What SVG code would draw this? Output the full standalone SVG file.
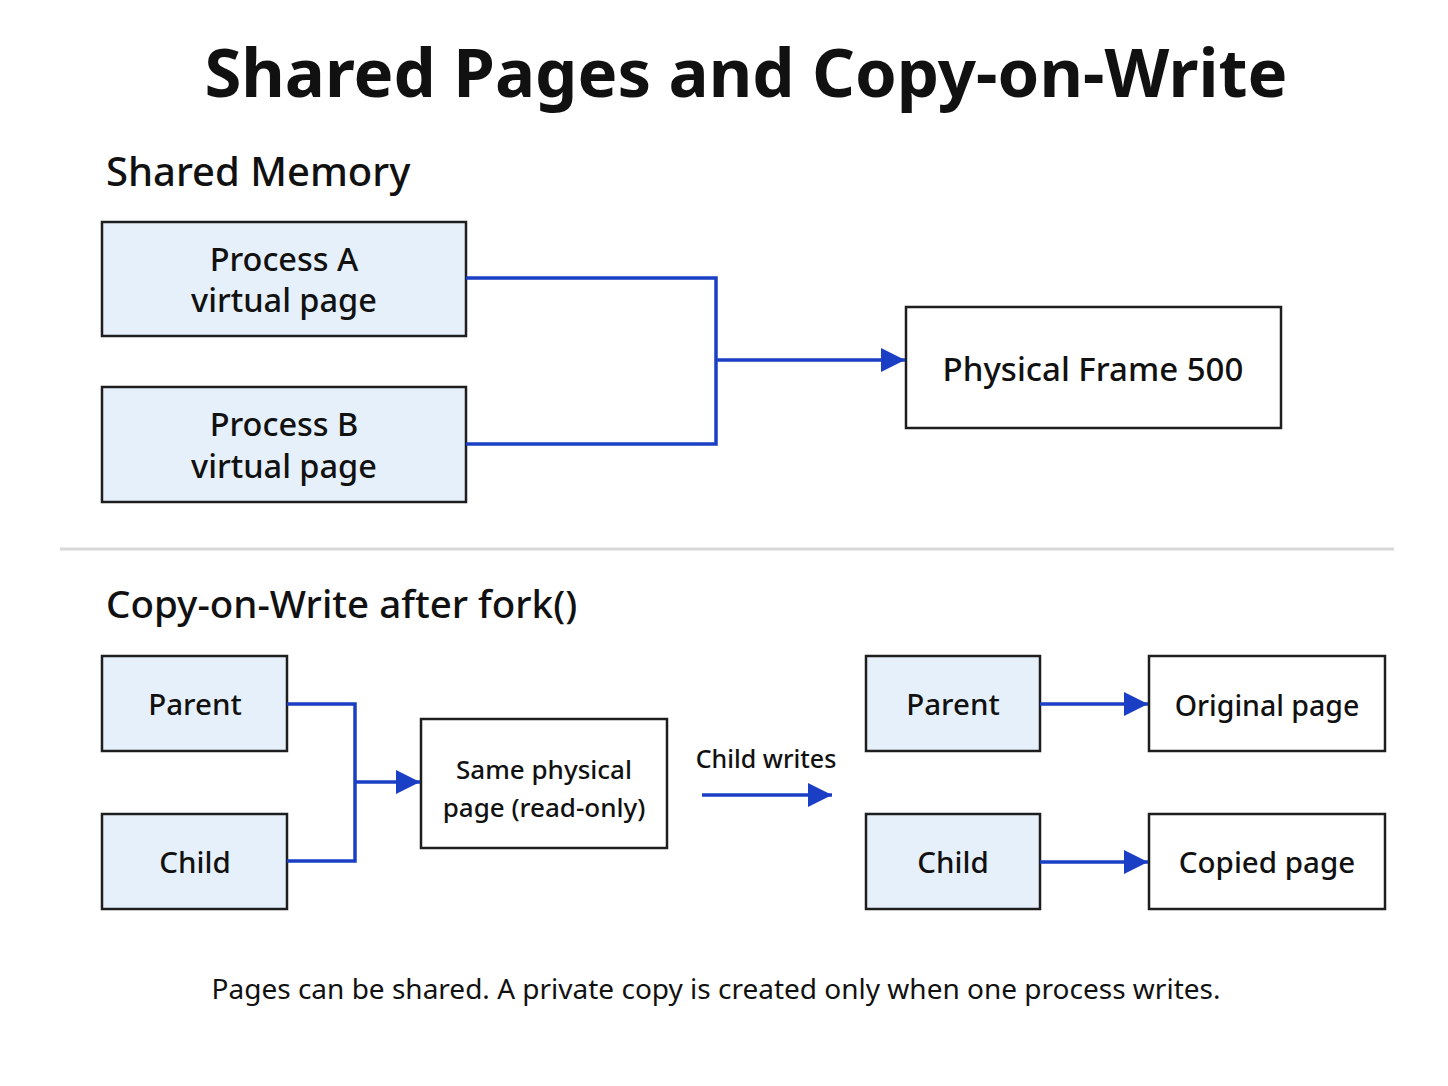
<svg xmlns="http://www.w3.org/2000/svg" width="1448" height="1086" viewBox="0 0 1448 1086">
<defs>
<marker id="arrow" viewBox="0 0 24 24" refX="24" refY="12" markerWidth="24" markerHeight="24" markerUnits="userSpaceOnUse" orient="auto">
<path d="M0,0 L24,12 L0,24 z" fill="#1a3fc4"/>
</marker>
<style>
text{font-family:"Noto Sans","Open Sans","Liberation Sans",sans-serif;fill:#111;font-weight:500;}
.title{font-size:67px;font-weight:700;}
.sec{font-size:40px;}
.lbl{font-size:32.5px;text-anchor:middle;}
.lb2{font-size:29.5px;text-anchor:middle;}
.sm{font-size:26px;text-anchor:middle;}
.foot{font-size:28px;text-anchor:middle;font-weight:400;}
.v{fill:#e6f0fb;stroke:#1e1e1e;stroke-width:2.5;}
.p{fill:#ffffff;stroke:#1e1e1e;stroke-width:2.5;}
.c{fill:none;stroke:#1a3fc4;stroke-width:3.5;stroke-linejoin:miter;}
.ca{fill:none;stroke:#1a3fc4;stroke-width:3.5;marker-end:url(#arrow);}
</style>
</defs>
<rect width="1448" height="1086" fill="#ffffff"/>
<text class="title" x="746" y="97" text-anchor="middle">Shared Pages and Copy-on-Write</text>
<text class="sec" x="106" y="186">Shared Memory</text>
<g id="procA"><rect class="v" x="102" y="222" width="364" height="114"/><text class="lbl" x="284" y="271">Process A</text><text class="lbl" x="284" y="312">virtual page</text></g>
<g id="procB"><rect class="v" x="102" y="387" width="364" height="115"/><text class="lbl" x="284" y="436">Process B</text><text class="lbl" x="284" y="478">virtual page</text></g>
<g id="frame500"><rect class="p" x="906" y="307" width="375" height="121"/><text class="lbl" x="1093" y="381" style="font-size:33px">Physical Frame 500</text></g>
<line x1="60" y1="549" x2="1394" y2="549" stroke="#d8d8d8" stroke-width="3"/>
<text class="sec" x="106" y="618" style="font-size:38.5px">Copy-on-Write after fork()</text>
<g id="parent1"><rect class="v" x="102" y="656" width="185" height="95"/><text class="lb2" x="195" y="715">Parent</text></g>
<g id="child1"><rect class="v" x="102" y="814" width="185" height="95"/><text class="lb2" x="195" y="873">Child</text></g>
<g id="samepage"><rect class="p" x="421" y="719" width="246" height="129"/><text class="sm" x="544" y="779">Same physical</text><text class="sm" x="544" y="817">page (read-only)</text></g>
<g id="parent2"><rect class="v" x="866" y="656" width="174" height="95"/><text class="lb2" x="953" y="715">Parent</text></g>
<g id="child2"><rect class="v" x="866" y="814" width="174" height="95"/><text class="lb2" x="953" y="873">Child</text></g>
<g id="original"><rect class="p" x="1149" y="656" width="236" height="95"/><text class="lb2" x="1267" y="716" style="font-size:28.5px">Original page</text></g>
<g id="copied"><rect class="p" x="1149" y="814" width="236" height="95"/><text class="lb2" x="1267" y="873">Copied page</text></g>
<g id="connectors">
<path class="c" d="M466,278 H716 V444 H466"/>
<path class="ca" d="M716,360 H905"/>
<path class="c" d="M287,704 H355 V861 H287"/>
<path class="ca" d="M355,782 H420"/>
<path class="ca" d="M702,795 H832"/>
<text class="sm" x="766" y="768" style="font-size:25px">Child writes</text>
<path class="ca" d="M1040,704 H1148"/>
<path class="ca" d="M1040,862 H1148"/>
</g>
<text class="foot" x="716" y="999">Pages can be shared. A private copy is created only when one process writes.</text>
</svg>
